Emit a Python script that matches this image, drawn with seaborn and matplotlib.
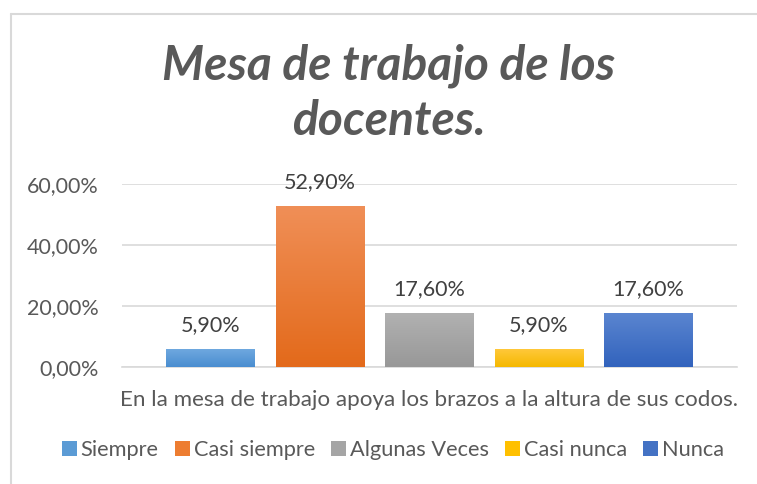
import numpy as np
import pandas as pd
import matplotlib
matplotlib.use("Agg")
import matplotlib.pyplot as plt
import seaborn as sns
from matplotlib.patches import Patch
from matplotlib.lines import Line2D
from matplotlib.colors import LinearSegmentedColormap

# ---- data ----
series = ["Siempre", "Casi siempre", "Algunas Veces", "Casi nunca", "Nunca"]
values = [5.90, 52.90, 17.60, 5.90, 17.60]
labels = ["5,90%", "52,90%", "17,60%", "5,90%", "17,60%"]
yticks = [0, 20, 40, 60]
yticklabels = ["0,00%", "20,00%", "40,00%", "60,00%"]
category = "En la mesa de trabajo apoya los brazos a la altura de sus codos."
title_lines = ["Mesa de trabajo de los", "docentes."]

base = ["#5B9BD5", "#ED7D31", "#A5A5A5", "#FFC000", "#4472C4"]
tops = ["#6EA8DF", "#F08F57", "#B1B1B1", "#FFC83A", "#5A85D0"]
bottoms = ["#4A8DD0", "#E36A1B", "#989898", "#F5B800", "#3263BD"]

sns.set_theme(style="white")
FAM = ['Lato', 'DejaVu Sans']
plt.rcParams['font.family'] = FAM
txt = "#595959"
W, H = 757, 484

fig = plt.figure(figsize=(W / 100, H / 100), dpi=100)
renderer = fig.canvas.get_renderer()


def fit(t, target_px):
    """Scale a text's font size so its rendered width equals target_px."""
    for _ in range(3):
        w = t.get_window_extent(renderer).width
        t.set_fontsize(t.get_fontsize() * target_px / w)
    return t.get_fontsize()


def fitted_size(s, target_px, **kw):
    probe = fig.text(0, 0, s, fontsize=14, **kw)
    fs = fit(probe, target_px)
    probe.remove()
    return fs


ax = fig.add_axes([122 / W, 1 - 367 / H, (737 - 122) / W, (367 - 184) / H])

df = pd.DataFrame({"serie": series, "valor": values})
sns.barplot(data=df, x="serie", y="valor", hue="serie", palette=base,
            width=0.81, legend=False, ax=ax, saturation=1, zorder=3)

num_fs = fitted_size("52,90%", 72)

# gradient fills + value labels
for i, cont in enumerate(ax.containers):
    cmap = LinearSegmentedColormap.from_list("g", [bottoms[i], tops[i]])
    for p in cont.patches:
        x0, y0 = p.get_x(), p.get_y()
        w, h = p.get_width(), p.get_height()
        grad = np.linspace(0, 1, 64).reshape(-1, 1)
        im = ax.imshow(grad, cmap=cmap, origin="lower", aspect="auto",
                       extent=[x0, x0 + w, y0, y0 + h], zorder=4)
        im.set_clip_path(p)
        p.set_facecolor("none")
        p.set_edgecolor("none")
    ax.bar_label(cont, labels=[labels[i]], padding=10, fontsize=num_fs, color="#404040")

ax.set_xlim(-0.81, 4.81)
ax.set_ylim(0, 60)

ax.set_yticks(yticks)
ax.set_yticklabels(yticklabels, fontsize=num_fs, color=txt)
ax.tick_params(axis="y", length=0, pad=16.5)
ax.set_xticks([])
ax.grid(axis="y", color="#D9D9D9", linewidth=1.2, zorder=0)
ax.set_axisbelow(True)
for s in ["top", "right", "left"]:
    ax.spines[s].set_visible(False)
ax.spines["bottom"].set_color("#D9D9D9")
ax.spines["bottom"].set_linewidth(1.2)
ax.set_ylabel("")

# category label under the axis: spans x 123..736, baseline y=406
ax.set_xlabel(category, fontsize=15, color=txt)
ax.xaxis.label.set_va("baseline")
ax.xaxis.set_label_coords((429.5 - 122) / (737 - 122), (367 - 406) / (367 - 184))
fit(ax.xaxis.label, 613)

# title: two lines, centred at x=389, baselines at y=79 and y=135
t1 = fig.text(389 / W, 1 - 79 / H, title_lines[0], ha="center", va="baseline",
              fontsize=32, fontweight="bold", fontstyle="italic", color=txt)
fit(t1, 452)
fig.text(389 / W, 1 - 135 / H, title_lines[1], ha="center", va="baseline",
         fontsize=t1.get_fontsize(), fontweight="bold", fontstyle="italic", color=txt)

# legend: "Casi siempre" ~121 px wide, squares ~15 px, right end at x=724
leg_fs = fitted_size("Casi siempre", 121)
em = leg_fs * 100 / 72  # px per em
handles = [Patch(facecolor=c, edgecolor="none") for c in base]
fig.legend(handles, series, loc="center right",
           bbox_to_anchor=(724 / W, 1 - 450 / H),
           ncol=5, frameon=False, fontsize=leg_fs,
           handlelength=15 / em, handleheight=15 / em,
           handletextpad=4 / em, columnspacing=16 / em,
           labelcolor=txt, borderaxespad=0, borderpad=0)

# chart frame (left and top edges visible)
fig.add_artist(Line2D([11 / W, 11 / W], [0, 1 - 14 / H], color="#D9D9D9", linewidth=1.5))
fig.add_artist(Line2D([11 / W, 1], [1 - 14 / H, 1 - 14 / H], color="#D9D9D9", linewidth=1.5))

fig.savefig("out.png", dpi=100)
